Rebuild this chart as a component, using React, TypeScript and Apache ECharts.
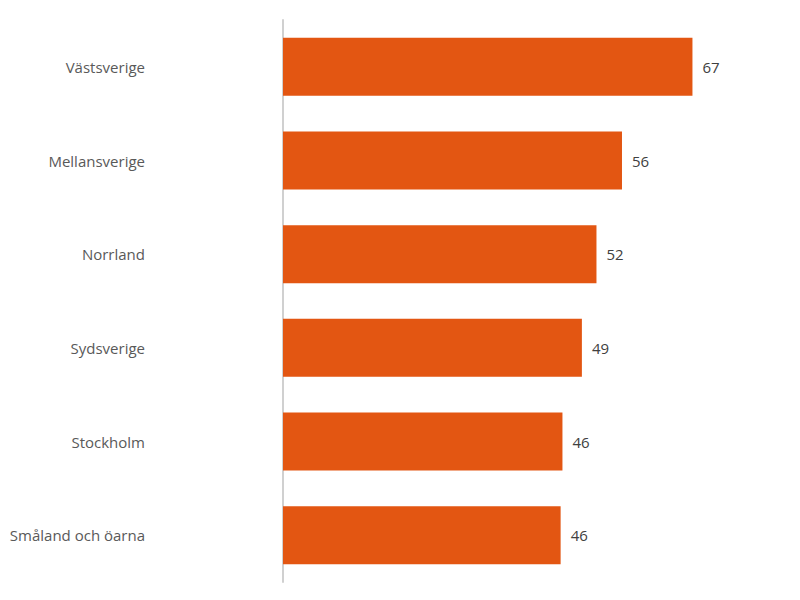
import React, { useEffect, useRef } from "react";
import * as echarts from "echarts";

const categories = [
  "Västsverige",
  "Mellansverige",
  "Norrland",
  "Sydsverige",
  "Stockholm",
  "Småland och öarna",
];
const values = [67.4, 55.8, 51.6, 49.2, 46.0, 45.7];

export default function App() {
  const ref = useRef<HTMLDivElement>(null);
  useEffect(() => {
    if (!ref.current) return;
    const chart = echarts.init(ref.current, null, { renderer: "svg" });
    chart.setOption({
      animation: false,
      backgroundColor: "#ffffff",
      grid: { left: 283, right: 31, top: 20, bottom: 18, containLabel: false },
      xAxis: {
        type: "value",
        min: 0,
        max: 80,
        show: false,
      },
      yAxis: {
        type: "category",
        data: categories,
        inverse: true,
        axisTick: { show: false },
        axisLine: { show: true, lineStyle: { color: "#d0d0d0", width: 2 } },
        axisLabel: {
          margin: 138,
          color: "#595959",
          fontSize: 15,
          fontFamily: "Open Sans",
        },
      },
      series: [
        {
          type: "bar",
          data: values,
          barCategoryGap: "38%",
          itemStyle: { color: "#E35612" },
          label: {
            show: true,
            position: "right",
            distance: 10,
            color: "#404040",
            fontSize: 15,
            fontFamily: "Open Sans",
            formatter: (p: any) => String(Math.round(p.value)),
          },
        },
      ],
    });
    return () => chart.dispose();
  }, []);
  return <div ref={ref} style={{ width: 800, height: 600, position: "absolute", left: 0, top: 0 }} />;
}
